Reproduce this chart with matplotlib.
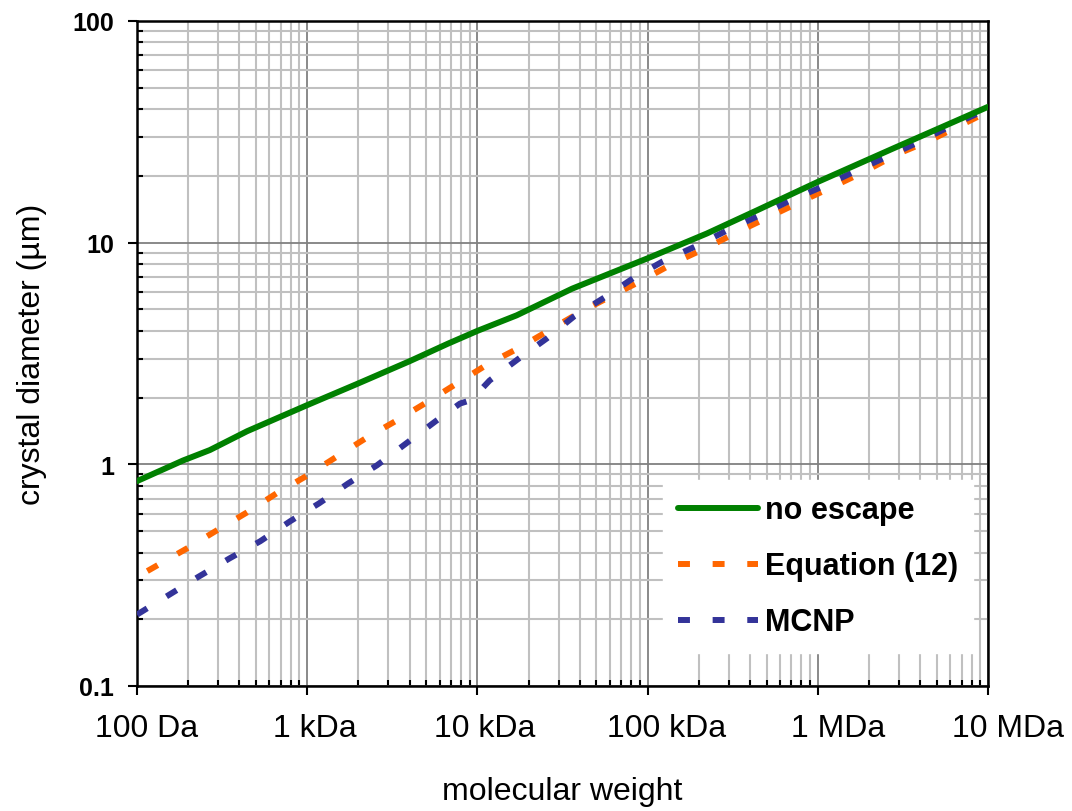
import matplotlib
matplotlib.use('Agg')
import matplotlib.pyplot as plt
import matplotlib.transforms as mtransforms
from matplotlib.ticker import FixedLocator, LogLocator, NullFormatter

plt.rcParams['font.family'] = ['Liberation Sans', 'DejaVu Sans']

# Data
mw_noesc = [100, 186, 268, 443, 1000, 1950, 4000, 6700, 10000, 17000, 36000,
            100000, 223000, 440000, 755000, 1000000, 2770000, 10000000]
d_noesc = [0.84, 1.04, 1.16, 1.41, 1.85, 2.3, 2.92, 3.5, 4.0, 4.7, 6.2,
           8.5, 11.0, 14.0, 17.0, 18.8, 26.6, 41]

mw_eq12 = [115, 197, 295, 443, 661, 1000, 1500, 2240, 3370, 5130, 7600, 11500,
           17800, 26900, 41000, 62700, 93000, 145000, 223000, 340000, 807000,
           1230000, 1900000, 2900000, 4550000, 7100000, 10000000]
d_eq12 = [0.33, 0.418, 0.504, 0.607, 0.74, 0.89, 1.086, 1.32, 1.58, 1.92, 2.32, 2.83,
          3.37, 4.06, 4.9, 5.8, 6.76, 8.15, 9.5, 11.2, 15.4,
          17.9, 21, 25, 28.9, 34.2, 39]

mw_mcnp = [100, 228, 351, 530, 792, 1175, 1740, 2570, 3800, 5650, 7900, 9200,
           11800, 17300, 25600, 37000, 56000, 82000, 123000, 190000, 296000,
           457000, 690000, 1100000, 1660000, 2570000, 3980000, 6170000, 10000000]
d_mcnp = [0.21, 0.31, 0.377, 0.45, 0.553, 0.667, 0.82, 0.99, 1.24, 1.56, 1.88, 1.95,
          2.39, 2.98, 3.7, 4.65, 5.67, 6.9, 8.24, 9.6, 11.4,
          13.3, 15.5, 18.1, 21, 24.5, 28.6, 33.9, 40.2]

x_ticks = [1e2, 1e3, 1e4, 1e5, 1e6, 1e7]
x_labels = ['100 Da', '1 kDa', '10 kDa', '100 kDa', '1 MDa', '10 MDa']
y_ticks = [0.1, 1, 10, 100]
y_labels = ['0.1', '1', '10', '100']

fig = plt.figure(figsize=(10.72, 8.12), dpi=100)
ax = fig.add_axes([137 / 1072, 1 - 687 / 812, (988 - 137) / 1072, (687 - 22) / 812])

ax.plot(mw_noesc, d_noesc, color='#008000', lw=4.3, solid_capstyle='round',
        label='no escape', zorder=5)
ax.plot(mw_eq12, d_eq12, color='#ff6600', lw=4.3, dashes=(2, 3.8),
        dash_capstyle='butt', label='Equation (12)', zorder=4)
ax.plot(mw_mcnp, d_mcnp, color='#333399', lw=4.3, dashes=(2, 3.8),
        dash_capstyle='butt', label='MCNP', zorder=4)

ax.set_xscale('log')
ax.set_yscale('log')
ax.set_xlim(1e2, 1e7)
ax.set_ylim(0.1, 100)

ax.xaxis.set_major_locator(FixedLocator(x_ticks))
ax.set_xticklabels(x_labels, fontsize=23)
ax.yaxis.set_major_locator(FixedLocator(y_ticks))
ax.set_yticklabels(y_labels, fontsize=18, fontweight='bold')
ax.xaxis.set_minor_locator(LogLocator(base=10, subs=range(2, 10), numticks=20))
ax.yaxis.set_minor_locator(LogLocator(base=10, subs=range(2, 10), numticks=20))
ax.xaxis.set_minor_formatter(NullFormatter())
ax.yaxis.set_minor_formatter(NullFormatter())

ax.tick_params(which='major', direction='out', length=6.5, width=1.5, color='black')
ax.tick_params(axis='x', which='major', pad=13)
ax.tick_params(axis='y', which='major', pad=10)
ax.tick_params(which='minor', direction='in', length=4, width=1.5, color='black')

# the x labels sit a little right of their ticks in the original
shifts_px = [10, 8, 7, 19, 20, 20]
for lab, dx in zip(ax.get_xticklabels(), shifts_px):
    lab.set_transform(lab.get_transform() +
                      mtransforms.ScaledTranslation(dx / 100, 0, fig.dpi_scale_trans))

ax.grid(which='minor', color='#c0c0c0', lw=1.5, zorder=0)
ax.grid(which='major', color='#808080', lw=1.3, zorder=1)
ax.set_axisbelow(True)
for s in ax.spines.values():
    s.set_linewidth(1.8)
    s.set_color('black')

ax.set_xlabel('molecular weight', fontsize=23, labelpad=24)
ax.set_ylabel('crystal diameter (µm)', fontsize=23, labelpad=18)

leg = ax.legend(loc='upper left', bbox_to_anchor=(663 / 1072, 1 - 481 / 812),
                bbox_transform=fig.transFigure, borderaxespad=0,
                prop={'size': 22, 'weight': 'bold'}, frameon=True, fancybox=False,
                handlelength=2.6, handletextpad=0.23, labelspacing=0.85,
                borderpad=0.5)
leg.get_frame().set_facecolor('white')
leg.get_frame().set_edgecolor('white')
leg.get_frame().set_alpha(1)
leg.set_zorder(10)

fig.savefig('out.png', dpi=100)
